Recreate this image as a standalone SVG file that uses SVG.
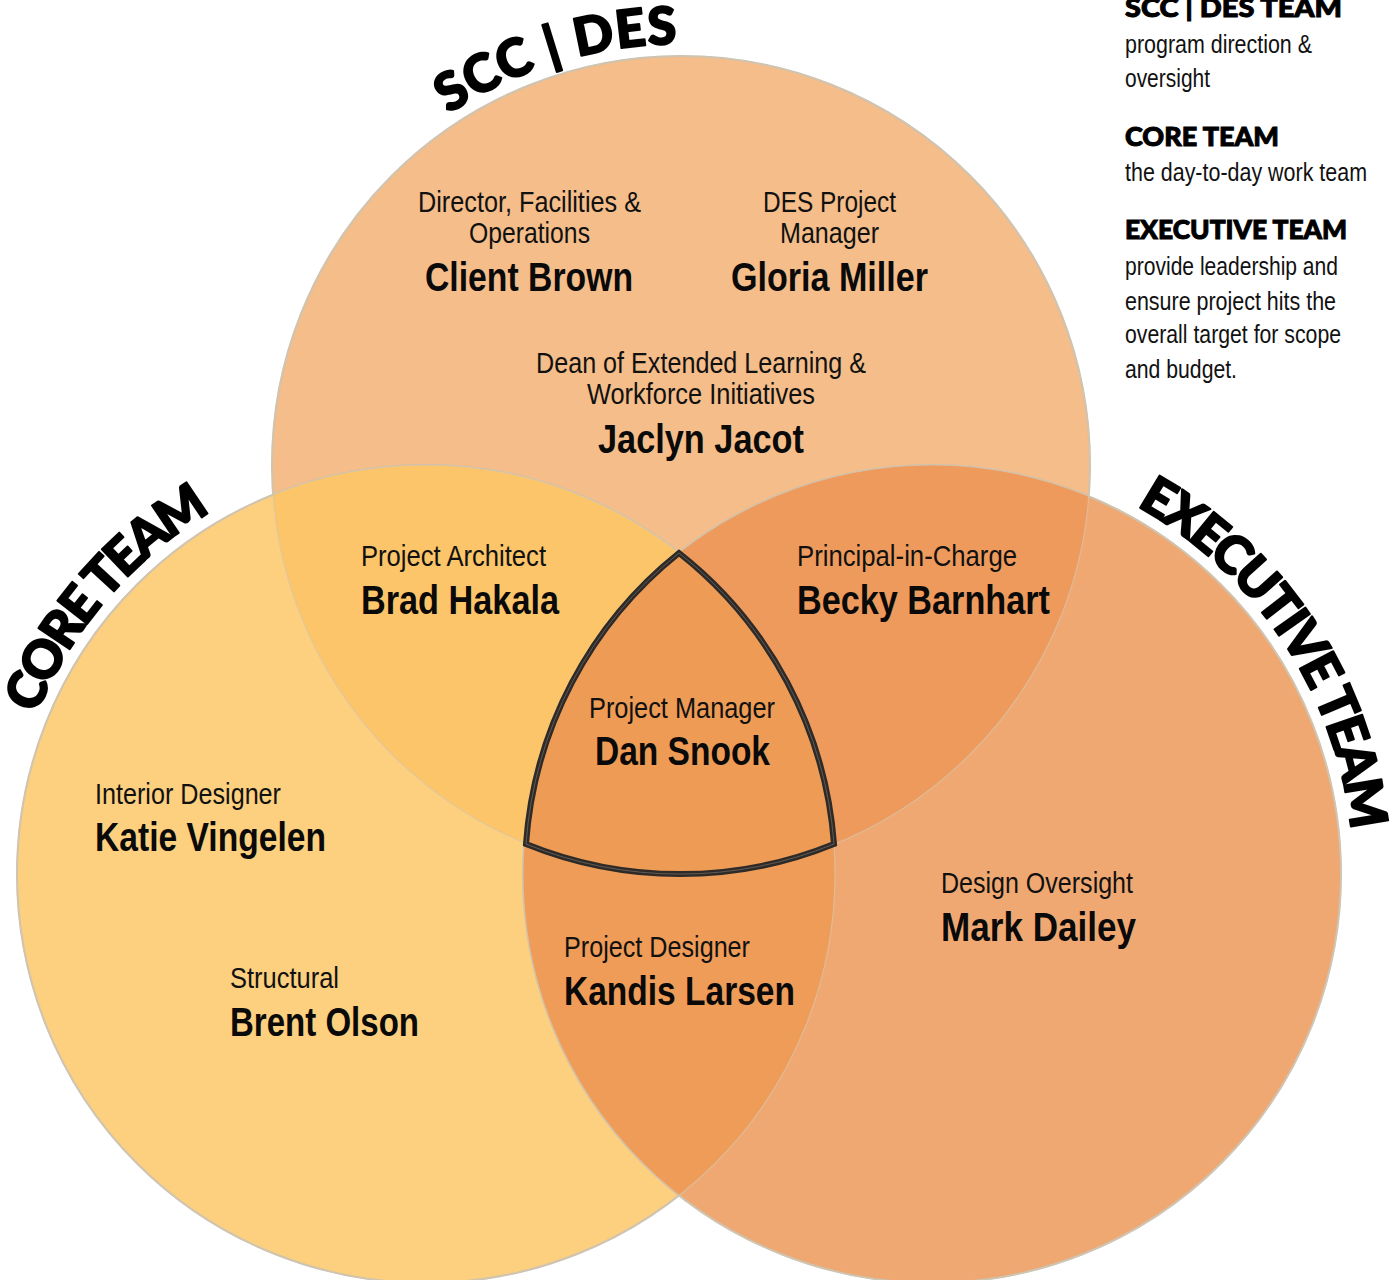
<svg xmlns="http://www.w3.org/2000/svg" width="1395" height="1280" viewBox="0 0 1395 1280">
<style>
.role{font-family:"Liberation Sans Narrow","Liberation Sans",sans-serif;font-size:29px;fill:#111;}
.name{font-family:"Liberation Sans Narrow","Liberation Sans",sans-serif;font-size:40px;font-weight:700;fill:#0a0a0a;}
.head{font-family:Lato,"DejaVu Sans",sans-serif;font-weight:900;fill:#000;stroke:#000;stroke-width:1;}
.body{font-family:"Liberation Sans Narrow","Liberation Sans",sans-serif;font-size:26px;fill:#111;}
.arc{font-family:Lato,"DejaVu Sans",sans-serif;font-weight:900;font-size:52px;fill:#000;stroke:#000;stroke-width:2;stroke-linejoin:round;}
.ring{stroke:#c9c2b4;stroke-width:2;}
</style>
<defs>
<clipPath id="cT"><circle cx="681" cy="465" r="409"/></clipPath>
<clipPath id="cL"><circle cx="426" cy="874" r="409"/></clipPath>
<clipPath id="cR"><circle cx="932" cy="874" r="409"/></clipPath>
<path id="arcT" d="M285.4,321 A421,421 0 0 1 1076.6,321"/>
<path id="arcL" d="M6.6,837.3 A421,421 0 0 1 426,453"/>
<path id="arcR" d="M858.9,459.4 A421,421 0 0 1 1353,874"/>
</defs>
<g id="circles">
<circle id="circle-scc" class="ring" cx="681" cy="465" r="409" fill="#f4bd89"/>
<circle id="circle-core" class="ring" cx="426" cy="874" r="409" fill="#fcd07e"/>
<circle id="circle-exec" class="ring" cx="932" cy="874" r="409" fill="#f0a872"/>
<circle cx="681" cy="465" r="409" fill="#fcc569" clip-path="url(#cL)"/>
<circle cx="681" cy="465" r="409" fill="#ee9a5c" clip-path="url(#cR)"/>
<circle cx="426" cy="874" r="409" fill="#ee9c57" clip-path="url(#cR)"/>
<g fill="none" stroke="#d8c6ac" stroke-width="1.2" opacity="0.7">
<circle cx="681" cy="465" r="409"/>
<circle cx="426" cy="874" r="409"/>
<circle cx="932" cy="874" r="409"/>
</g>
</g>
<g id="center">
<path d="M679,553 A409,409 0 0 0 526,844 A409,409 0 0 0 834,844 A409,409 0 0 0 679,553 Z" fill="#ee9b55" stroke="#2e2a27" stroke-width="6" stroke-linejoin="miter"/>
<path d="M679,553 A409,409 0 0 0 526,844 A409,409 0 0 0 834,844 A409,409 0 0 0 679,553 Z" fill="none" stroke="#6e6660" stroke-width="0.8"/>
</g>
<g id="labels-arc">
<text class="arc" font-size="50"><textPath href="#arcT" startOffset="268" textLength="242" lengthAdjust="spacing">SCC | DES</textPath></text>
<text class="arc"><textPath href="#arcL" startOffset="127" textLength="272" lengthAdjust="spacing">CORE TEAM</textPath></text>
<text class="arc"><textPath href="#arcR" startOffset="287" textLength="404" lengthAdjust="spacing">EXECUTIVE TEAM</textPath></text>
</g>
<g id="node-client-brown">
<text class="role" x="418" y="212" textLength="223" lengthAdjust="spacingAndGlyphs">Director, Facilities &amp;</text>
<text class="role" x="469" y="243" textLength="121" lengthAdjust="spacingAndGlyphs">Operations</text>
<text class="name" x="425" y="291" textLength="208" lengthAdjust="spacingAndGlyphs">Client Brown</text>
</g>
<g id="node-gloria-miller">
<text class="role" x="763" y="212" textLength="133" lengthAdjust="spacingAndGlyphs">DES Project</text>
<text class="role" x="780" y="243" textLength="99" lengthAdjust="spacingAndGlyphs">Manager</text>
<text class="name" x="731" y="291" textLength="197" lengthAdjust="spacingAndGlyphs">Gloria Miller</text>
</g>
<g id="node-jaclyn-jacot">
<text class="role" x="536" y="373" textLength="330" lengthAdjust="spacingAndGlyphs">Dean of Extended Learning &amp;</text>
<text class="role" x="587" y="404" textLength="228" lengthAdjust="spacingAndGlyphs">Workforce Initiatives</text>
<text class="name" x="598" y="453" textLength="206" lengthAdjust="spacingAndGlyphs">Jaclyn Jacot</text>
</g>
<g id="node-brad-hakala">
<text class="role" x="361" y="566" textLength="185" lengthAdjust="spacingAndGlyphs">Project Architect</text>
<text class="name" x="361" y="614" textLength="198" lengthAdjust="spacingAndGlyphs">Brad Hakala</text>
</g>
<g id="node-becky-barnhart">
<text class="role" x="797" y="566" textLength="220" lengthAdjust="spacingAndGlyphs">Principal-in-Charge</text>
<text class="name" x="797" y="614" textLength="253" lengthAdjust="spacingAndGlyphs">Becky Barnhart</text>
</g>
<g id="node-dan-snook">
<text class="role" x="589" y="718" textLength="186" lengthAdjust="spacingAndGlyphs">Project Manager</text>
<text class="name" x="595" y="765" textLength="175" lengthAdjust="spacingAndGlyphs">Dan Snook</text>
</g>
<g id="node-katie-vingelen">
<text class="role" x="95" y="804" textLength="186" lengthAdjust="spacingAndGlyphs">Interior Designer</text>
<text class="name" x="95" y="851" textLength="231" lengthAdjust="spacingAndGlyphs">Katie Vingelen</text>
</g>
<g id="node-brent-olson">
<text class="role" x="230" y="988" textLength="109" lengthAdjust="spacingAndGlyphs">Structural</text>
<text class="name" x="230" y="1036" textLength="189" lengthAdjust="spacingAndGlyphs">Brent Olson</text>
</g>
<g id="node-kandis-larsen">
<text class="role" x="564" y="957" textLength="186" lengthAdjust="spacingAndGlyphs">Project Designer</text>
<text class="name" x="564" y="1005" textLength="231" lengthAdjust="spacingAndGlyphs">Kandis Larsen</text>
</g>
<g id="node-mark-dailey">
<text class="role" x="941" y="893" textLength="192" lengthAdjust="spacingAndGlyphs">Design Oversight</text>
<text class="name" x="941" y="941" textLength="195" lengthAdjust="spacingAndGlyphs">Mark Dailey</text>
</g>
<g id="legend">
<text class="head" x="1125" y="17" font-size="27" textLength="217" lengthAdjust="spacingAndGlyphs">SCC | DES TEAM</text>
<text class="body" x="1125" y="53" textLength="187" lengthAdjust="spacingAndGlyphs">program direction &amp;</text>
<text class="body" x="1125" y="87" textLength="85" lengthAdjust="spacingAndGlyphs">oversight</text>
<text class="head" x="1125" y="146" font-size="27" textLength="154" lengthAdjust="spacingAndGlyphs">CORE TEAM</text>
<text class="body" x="1125" y="181" textLength="242" lengthAdjust="spacingAndGlyphs">the day-to-day work team</text>
<text class="head" x="1125" y="239" font-size="27" textLength="222" lengthAdjust="spacingAndGlyphs">EXECUTIVE TEAM</text>
<text class="body" x="1125" y="275" textLength="213" lengthAdjust="spacingAndGlyphs">provide leadership and</text>
<text class="body" x="1125" y="310" textLength="211" lengthAdjust="spacingAndGlyphs">ensure project hits the</text>
<text class="body" x="1125" y="343" textLength="216" lengthAdjust="spacingAndGlyphs">overall target for scope</text>
<text class="body" x="1125" y="378" textLength="112" lengthAdjust="spacingAndGlyphs">and budget.</text>
</g>
</svg>
